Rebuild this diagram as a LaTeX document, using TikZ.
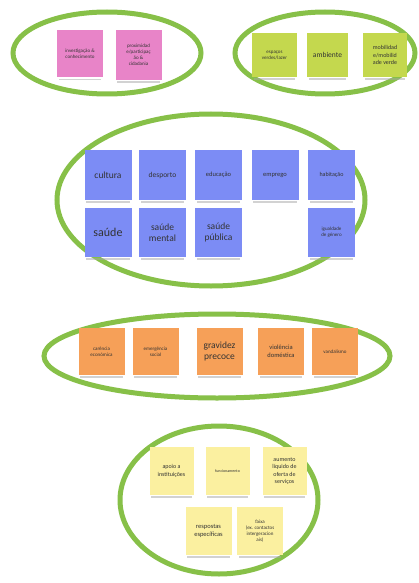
\documentclass[tikz,border=0pt]{standalone}
\usepackage{fontspec}
\setmainfont{Carlito}
\begin{document}
\begin{tikzpicture}[x=1pt,y=-1pt,
  group/.style={draw=grp,line width=5pt},
  sticky/.style={rectangle,fill=#1,minimum width=46pt,minimum height=48pt,
    inner sep=1pt,align=center,text=black!80,font=\fontsize{5}{6}\selectfont},
  big/.style={font=\fontsize{9.5}{11}\selectfont},
  mid/.style={font=\fontsize{7.5}{9}\selectfont}]
\definecolor{grp}{RGB}{135,192,72}
\definecolor{pinknote}{RGB}{232,132,200}
\definecolor{limenote}{RGB}{196,216,78}
\definecolor{bluenote}{RGB}{124,140,245}
\definecolor{orangenote}{RGB}{246,160,88}
\definecolor{yellownote}{RGB}{251,240,160}
\useasboundingbox (0,0) rectangle (418,583);
\fill[white] (0,0) rectangle (418,583);

% groups
\draw[group] (107,53) ellipse [x radius=94, y radius=41];
\draw[group] (325,53) ellipse [x radius=90, y radius=41];
\draw[group] (211,200) ellipse [x radius=154, y radius=86];
\draw[group] (217,356) ellipse [x radius=173, y radius=42];
\draw[group] (219,500) ellipse [x radius=99, y radius=74];

% shadow under each note
\tikzset{shade/.style={path picture={}},
  every node/.append style={}}
\newcommand{\notebase}[1]{\fill[black!35,opacity=0.5] ([xshift=2pt,yshift=-1pt]#1.south west) rectangle ([xshift=-2pt,yshift=-2.5pt]#1.south east);}

% pink group
\node[sticky=pinknote,minimum height=47pt] (p1) at (80,54) {investigação \&\\conhecimento};
\node[sticky=pinknote,minimum height=50pt] (p2) at (138.5,55) {proximidad\\e/participaç\\ão \&\\cidadania};

% lime group
\node[sticky=limenote,minimum width=45pt,minimum height=44pt] (g1) at (274.5,55) {espaços\\verdes/lazer};
\node[sticky=limenote,minimum width=41pt,minimum height=44pt,mid] (g2) at (327.5,55) {ambiente};
\node[sticky=limenote,minimum width=44pt,minimum height=44pt,font=\fontsize{6}{7.5}\selectfont] (g3) at (385,55) {mobilidad\\e/mobilid\\ade verde};

% blue group
\node[sticky=bluenote,minimum width=47pt,minimum height=50pt,big] (b1) at (108,175) {cultura};
\node[sticky=bluenote,minimum width=47pt,minimum height=50pt,mid] (b2) at (162.5,175) {desporto};
\node[sticky=bluenote,minimum width=47pt,minimum height=50pt,font=\fontsize{6.5}{8}\selectfont] (b3) at (218.5,175) {educação};
\node[sticky=bluenote,minimum width=47pt,minimum height=50pt,font=\fontsize{6.5}{8}\selectfont] (b4) at (275,175) {emprego};
\node[sticky=bluenote,minimum width=47pt,minimum height=50pt,font=\fontsize{6}{7}\selectfont] (b5) at (331.5,175) {habitação};
\node[sticky=bluenote,minimum width=47pt,minimum height=49pt,font=\fontsize{12}{14}\selectfont] (b6) at (108,232.5) {saúde};
\node[sticky=bluenote,minimum width=47pt,minimum height=49pt,big] (b7) at (162.5,232.5) {saúde\\mental};
\node[sticky=bluenote,minimum width=47pt,minimum height=49pt,big] (b8) at (218.5,232.5) {saúde\\pública};
\node[sticky=bluenote,minimum width=47pt,minimum height=49pt] (b9) at (331.5,232.5) {igualdade\\de género};

% orange group
\node[sticky=orangenote,minimum height=47pt] (o1) at (101.5,351.5) {carência\\económica};
\node[sticky=orangenote,minimum height=47pt] (o2) at (155.5,351.5) {emergência\\social};
\node[sticky=orangenote,minimum height=47pt,big] (o3) at (219.5,351.5) {gravidez\\precoce};
\node[sticky=orangenote,minimum height=47pt,font=\fontsize{6.5}{8}\selectfont] (o4) at (281,351.5) {violência\\doméstica};
\node[sticky=orangenote,minimum height=47pt] (o5) at (335,351.5) {vandalismo};

% yellow group
\node[sticky=yellownote,minimum width=44pt,minimum height=48pt,font=\fontsize{6}{7.5}\selectfont] (y1) at (171.5,471) {apoio a\\instituições};
\node[sticky=yellownote,minimum width=44pt,minimum height=48pt,font=\fontsize{4}{5}\selectfont] (y2) at (227.5,471) {funcionamento};
\node[sticky=yellownote,minimum width=44pt,minimum height=48pt,font=\fontsize{6}{7.5}\selectfont] (y3) at (284.5,471) {aumento\\líquido de\\oferta de\\serviços};
\node[sticky=yellownote,minimum width=46pt,minimum height=48pt,font=\fontsize{6.5}{8}\selectfont] (y4) at (208.5,531) {respostas\\específicas};
\node[sticky=yellownote,minimum width=46pt,minimum height=48pt] (y5) at (260,531) {faixa\\(ex. contactos\\intergeracion\\ais)};

\foreach \n in {p1,p2,g1,g2,g3,b1,b2,b3,b4,b5,b6,b7,b8,b9,o1,o2,o3,o4,o5,y1,y2,y3,y4,y5}{\notebase{\n}}
\end{tikzpicture}
\end{document}
